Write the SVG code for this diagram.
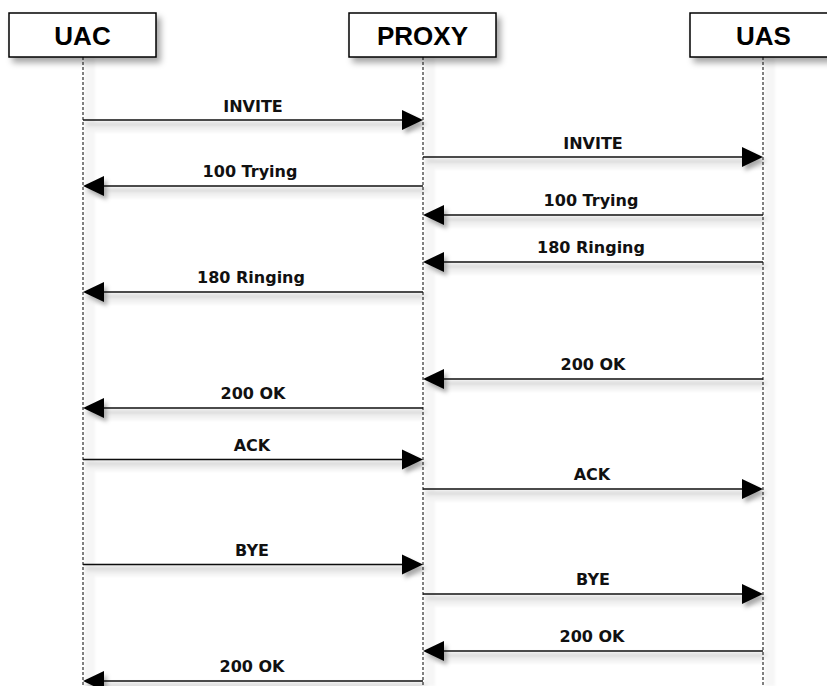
<svg xmlns="http://www.w3.org/2000/svg" width="827" height="686" viewBox="0 0 827 686">
<style>
.box{fill:#fff;stroke:#000;stroke-width:1.5}
.hdr{font-family:"Liberation Sans",Arial,sans-serif;font-weight:bold;font-size:26px;text-anchor:middle;fill:#000}
.life{stroke:#000;stroke-width:1;stroke-dasharray:3 2;fill:none}
.lifesh{fill:#f6f6f6}
.msg{stroke:#111;stroke-width:1.3;fill:none}
.msgsh{fill:#f3f3f3}
.head{fill:#000}
.lbl{font-family:"DejaVu Sans",Verdana,sans-serif;font-weight:bold;font-size:16px;text-anchor:middle;fill:#111}
</style>
<defs>
<filter id="bsh" x="-20%" y="-30%" width="150%" height="180%">
<feDropShadow dx="4" dy="5" stdDeviation="3" flood-color="#000" flood-opacity="0.35"/>
</filter>
<filter id="hsh" x="-50%" y="-50%" width="200%" height="200%">
<feDropShadow dx="3" dy="4" stdDeviation="2" flood-color="#000" flood-opacity="0.3"/>
</filter>
<filter id="soft"><feGaussianBlur stdDeviation="1.5"/></filter>
</defs>
<rect width="827" height="686" fill="#fff"/>
<g id="lifeline-shadows" filter="url(#soft)">
<rect class="lifesh" x="85" y="57" width="10" height="629"/>
<rect class="lifesh" x="425" y="57" width="10" height="629"/>
<rect class="lifesh" x="765" y="57" width="10" height="629"/>
</g>
<g id="node-uac">
<rect class="box" x="9" y="13" width="147" height="44" filter="url(#bsh)"/>
<text class="hdr" x="82.5" y="45">UAC</text>
</g>
<g id="node-proxy">
<rect class="box" x="349" y="13" width="147" height="44" filter="url(#bsh)"/>
<text class="hdr" x="422.5" y="45">PROXY</text>
</g>
<g id="node-uas">
<rect class="box" x="690" y="13" width="147" height="44" filter="url(#bsh)"/>
<text class="hdr" x="763.5" y="45">UAS</text>
</g>
<g id="connectors">
<g id="msg-shadows" filter="url(#soft)">
<rect class="msgsh" x="85" y="122" width="338" height="10"/>
<rect class="msgsh" x="425" y="159" width="338" height="10"/>
<rect class="msgsh" x="85" y="188" width="338" height="10"/>
<rect class="msgsh" x="425" y="217" width="338" height="10"/>
<rect class="msgsh" x="425" y="264" width="338" height="10"/>
<rect class="msgsh" x="85" y="294" width="338" height="10"/>
<rect class="msgsh" x="425" y="381" width="338" height="10"/>
<rect class="msgsh" x="85" y="410" width="338" height="10"/>
<rect class="msgsh" x="85" y="461" width="338" height="10"/>
<rect class="msgsh" x="425" y="491" width="338" height="10"/>
<rect class="msgsh" x="85" y="566" width="338" height="10"/>
<rect class="msgsh" x="425" y="596" width="338" height="10"/>
<rect class="msgsh" x="425" y="653" width="338" height="10"/>
<rect class="msgsh" x="85" y="683" width="338" height="10"/>
</g>
<line class="life" x1="83" y1="57" x2="83" y2="686"/>
<line class="life" x1="423" y1="57" x2="423" y2="686"/>
<line class="life" x1="763" y1="57" x2="763" y2="686"/>
<g filter="url(#hsh)">
<line class="msg" x1="83" y1="120" x2="405" y2="120"/>
<path class="head" d="M423 120 L402 110 L402 130 Z"/>
<line class="msg" x1="423" y1="157" x2="745" y2="157"/>
<path class="head" d="M763 157 L742 147 L742 167 Z"/>
<line class="msg" x1="101" y1="186" x2="423" y2="186"/>
<path class="head" d="M83 186 L104 176 L104 196 Z"/>
<line class="msg" x1="441" y1="215" x2="763" y2="215"/>
<path class="head" d="M423 215 L444 205 L444 225 Z"/>
<line class="msg" x1="441" y1="262" x2="763" y2="262"/>
<path class="head" d="M423 262 L444 252 L444 272 Z"/>
<line class="msg" x1="101" y1="292" x2="423" y2="292"/>
<path class="head" d="M83 292 L104 282 L104 302 Z"/>
<line class="msg" x1="441" y1="379" x2="763" y2="379"/>
<path class="head" d="M423 379 L444 369 L444 389 Z"/>
<line class="msg" x1="101" y1="408" x2="423" y2="408"/>
<path class="head" d="M83 408 L104 398 L104 418 Z"/>
<line class="msg" x1="83" y1="459.5" x2="405" y2="459.5"/>
<path class="head" d="M423 459.5 L402 449.5 L402 469.5 Z"/>
<line class="msg" x1="423" y1="489" x2="745" y2="489"/>
<path class="head" d="M763 489 L742 479 L742 499 Z"/>
<line class="msg" x1="83" y1="564.5" x2="405" y2="564.5"/>
<path class="head" d="M423 564.5 L402 554.5 L402 574.5 Z"/>
<line class="msg" x1="423" y1="594" x2="745" y2="594"/>
<path class="head" d="M763 594 L742 584 L742 604 Z"/>
<line class="msg" x1="441" y1="651" x2="763" y2="651"/>
<path class="head" d="M423 651 L444 641 L444 661 Z"/>
<line class="msg" x1="101" y1="681" x2="423" y2="681"/>
<path class="head" d="M83 681 L104 671 L104 691 Z"/>
</g>
<text class="lbl" x="253" y="112">INVITE</text>
<text class="lbl" x="593" y="149">INVITE</text>
<text class="lbl" x="250" y="177">100 Trying</text>
<text class="lbl" x="591" y="206">100 Trying</text>
<text class="lbl" x="591" y="253">180 Ringing</text>
<text class="lbl" x="251" y="283">180 Ringing</text>
<text class="lbl" x="593" y="370">200 OK</text>
<text class="lbl" x="253" y="399">200 OK</text>
<text class="lbl" x="252" y="451">ACK</text>
<text class="lbl" x="592" y="480">ACK</text>
<text class="lbl" x="252" y="556">BYE</text>
<text class="lbl" x="593" y="585">BYE</text>
<text class="lbl" x="592" y="642">200 OK</text>
<text class="lbl" x="252" y="672">200 OK</text>
</g>
</svg>
